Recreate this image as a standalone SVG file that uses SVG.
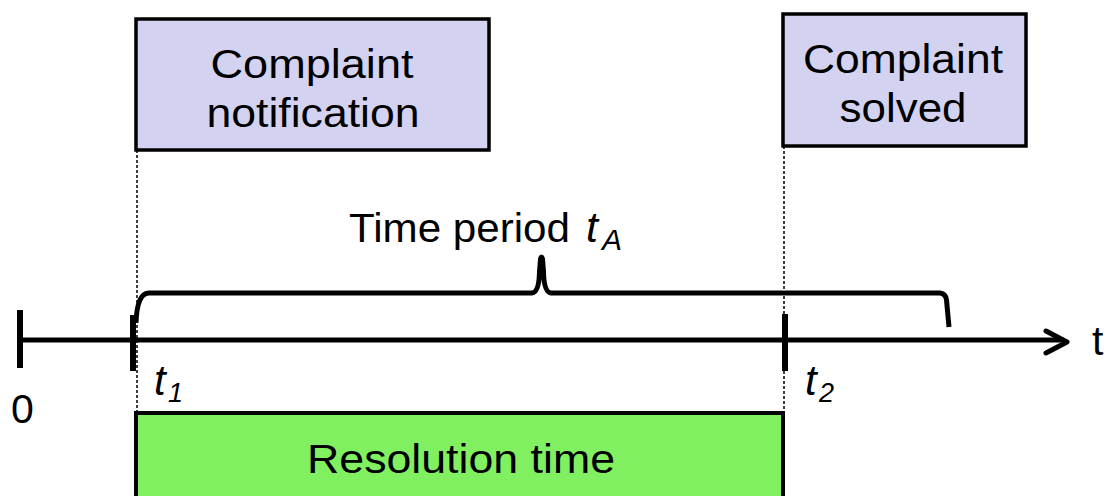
<svg xmlns="http://www.w3.org/2000/svg" width="1106" height="496" viewBox="0 0 1106 496">
<style>
.box{fill:#d3d3f1;stroke:#000;stroke-width:3.5}
.green{fill:#80f060;stroke:#000;stroke-width:4}
.txt{font-family:"Liberation Sans",Arial,sans-serif;font-size:41px;fill:#000}
.it{font-family:"Liberation Sans",Arial,sans-serif;font-style:italic;fill:#000}
.dash{stroke:#000;stroke-width:1.5;stroke-dasharray:3 2;fill:none}
.thick{stroke:#000;stroke-width:5;fill:none}
</style>
<rect width="1106" height="496" fill="#fff"/>
<g id="connectors">
  <line class="dash" x1="137" y1="150" x2="137" y2="413"/>
  <line class="dash" x1="784" y1="146" x2="784" y2="496"/>
  <line class="thick" x1="20" y1="340" x2="1064" y2="340"/>
  <polyline class="thick" points="1046,331 1067,342 1046,353" stroke-linejoin="round" stroke-linecap="round"/>
  <line stroke="#000" stroke-width="6" x1="20" y1="310" x2="20" y2="368"/>
  <line stroke="#000" stroke-width="6" x1="133" y1="315" x2="133" y2="371"/>
  <line stroke="#000" stroke-width="6" x1="785" y1="314" x2="785" y2="371"/>
  <path class="thick" stroke-width="4" d="M136,323 Q137,293 149,293 L532,293 Q539,292 539.5,272 L540.5,259 Q541.5,255 542.5,259 L543.5,272 Q544,292 551,293 L940,293 Q946,294 946.5,300 L949,327"/>
</g>
<g id="complaint-notification">
  <rect class="box" x="136" y="19" width="353" height="131"/>
  <text class="txt" x="312" y="78" text-anchor="middle" textLength="203" lengthAdjust="spacingAndGlyphs">Complaint</text>
  <text class="txt" x="313" y="127" text-anchor="middle" textLength="213" lengthAdjust="spacingAndGlyphs">notification</text>
</g>
<g id="complaint-solved">
  <rect class="box" x="783" y="14" width="243" height="132"/>
  <text class="txt" x="903" y="73" text-anchor="middle" textLength="200" lengthAdjust="spacingAndGlyphs">Complaint</text>
  <text class="txt" x="903" y="122" text-anchor="middle" textLength="127" lengthAdjust="spacingAndGlyphs">solved</text>
</g>
<g id="resolution-time">
  <rect class="green" x="136" y="413" width="647" height="90"/>
  <text class="txt" x="461" y="473" text-anchor="middle" textLength="308" lengthAdjust="spacingAndGlyphs">Resolution time</text>
</g>
<g id="labels">
  <text class="txt" x="349" y="242" textLength="221" lengthAdjust="spacingAndGlyphs">Time period</text>
  <text class="it" x="586" y="242" font-size="43">t</text>
  <text class="it" x="602" y="250" font-size="30">A</text>
  <text class="txt" x="11" y="423">0</text>
  <text class="it" x="154" y="395" font-size="42">t</text>
  <text class="it" x="168" y="402" font-size="27">1</text>
  <text class="it" x="805" y="395" font-size="42">t</text>
  <text class="it" x="819" y="402" font-size="27">2</text>
  <text class="txt" x="1092" y="355">t</text>
</g>
</svg>
